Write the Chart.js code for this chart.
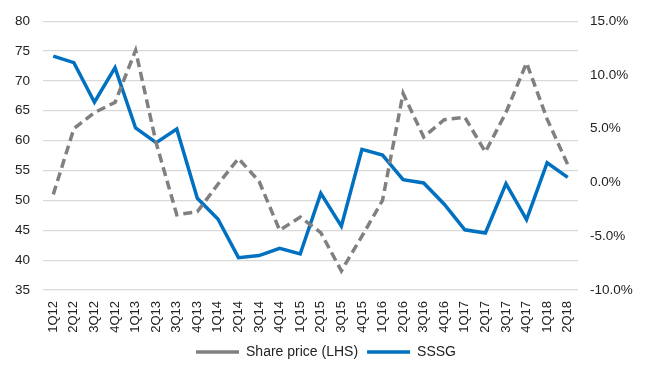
<!DOCTYPE html>
<html>
<head>
<meta charset="utf-8">
<script src="https://cdn.jsdelivr.net/npm/chart.js@4"></script>
<style>
  html, body { margin: 0; padding: 0; background: #fff; }
  #wrap { width: 652px; height: 369px; }
</style>
</head>
<body>
<div id="wrap"><canvas id="chart"></canvas></div>
<script>
// quarters on the x axis
const quarters = ['1Q12', '2Q12', '3Q12', '4Q12', '1Q13', '2Q13', '3Q13', '4Q13', '1Q14', '2Q14', '3Q14', '4Q14',
    '1Q15', '2Q15', '3Q15', '4Q15', '1Q16', '2Q16', '3Q16', '4Q16', '1Q17', '2Q17', '3Q17', '4Q17', '1Q18', '2Q18'];

// share price, left axis
const sharePrice = [51, 62, 64.7, 66.4, 75.1, 59.6, 47.6, 48.1, 52.7, 57, 53.2, 45, 47.2, 44.6, 38.2, 44, 50,
    67.9, 60.6, 63.5, 63.9, 58.1, 64.7, 73, 63.6, 56];

// same store sales growth, right axis (%)
const sssg = [11.75, 11.14, 7.46, 10.68, 5.06, 3.7, 4.96, -1.48, -3.4, -6.99, -6.8, -6.13, -6.65, -1.02, -4.07,
    3.08, 2.54, 0.26, -0.05, -2.03, -4.4, -4.7, -0.11, -3.46, 1.83, 0.47];

const leftTicks = [35, 40, 45, 50, 55, 60, 65, 70, 75, 80];
const rightTicks = [-10, -5, 0, 5, 10, 15];

const txt = '#222';
const fam = '"Liberation Sans", Arial, sans-serif';

new Chart(document.getElementById('chart'), {
    type: 'line',
    data: {
        labels: quarters,
        datasets: [{
            label: 'Share price (LHS)',
            data: sharePrice,
            yAxisID: 'y',
            borderColor: '#808080',
            backgroundColor: '#808080',
            borderWidth: 3.5,
            borderDash: [9, 5],
            pointRadius: 0,
            tension: 0,
            pointStyle: 'line'
        }, {
            label: 'SSSG',
            data: sssg,
            yAxisID: 'y1',
            borderColor: '#0070c0',
            backgroundColor: '#0070c0',
            borderWidth: 3.5,
            pointRadius: 0,
            tension: 0,
            pointStyle: 'line'
        }]
    },
    options: {
        responsive: true,
        maintainAspectRatio: false,
        animation: false,
        layout: { padding: { left: 0, right: 0, top: -3, bottom: 0 } },
        plugins: {
            legend: {
                position: 'bottom',
                labels: {
                    usePointStyle: true,
                    pointStyleWidth: 43,
                    color: txt,
                    font: { family: fam, size: 14 },
                    padding: 9
                }
            },
            tooltip: { enabled: false }
        },
        scales: {
            x: {
                offset: true,
                grid: { display: false, drawTicks: false },
                border: { display: false },
                ticks: {
                    color: txt,
                    font: { family: fam, size: 13 },
                    maxRotation: 90,
                    minRotation: 90,
                    autoSkip: false,
                    padding: 11
                },
                // fixed heights/widths so the plot area sits where the original has it
                afterFit: function (axis) { axis.height = 46; }
            },
            y: {
                position: 'left',
                min: 35,
                max: 80,
                afterBuildTicks: function (axis) {
                    axis.ticks = leftTicks.map(v => ({ value: v }));
                },
                afterFit: function (axis) { axis.width = 43; },
                grid: { color: '#d9d9d9', lineWidth: 1.2, drawTicks: false },
                border: { display: false },
                ticks: { color: txt, font: { family: fam, size: 13.5 }, padding: 13 }
            },
            y1: {
                position: 'right',
                min: -10,
                max: 15,
                afterBuildTicks: function (axis) {
                    axis.ticks = rightTicks.map(v => ({ value: v }));
                },
                afterFit: function (axis) { axis.width = 74; },
                grid: { display: false, drawTicks: false },
                border: { display: false },
                ticks: {
                    color: txt,
                    font: { family: fam, size: 13.5 },
                    padding: 12,
                    callback: function (value) {
                        return value.toFixed(1) + '%';
                    }
                }
            }
        }
    }
});
</script>
</body>
</html>
